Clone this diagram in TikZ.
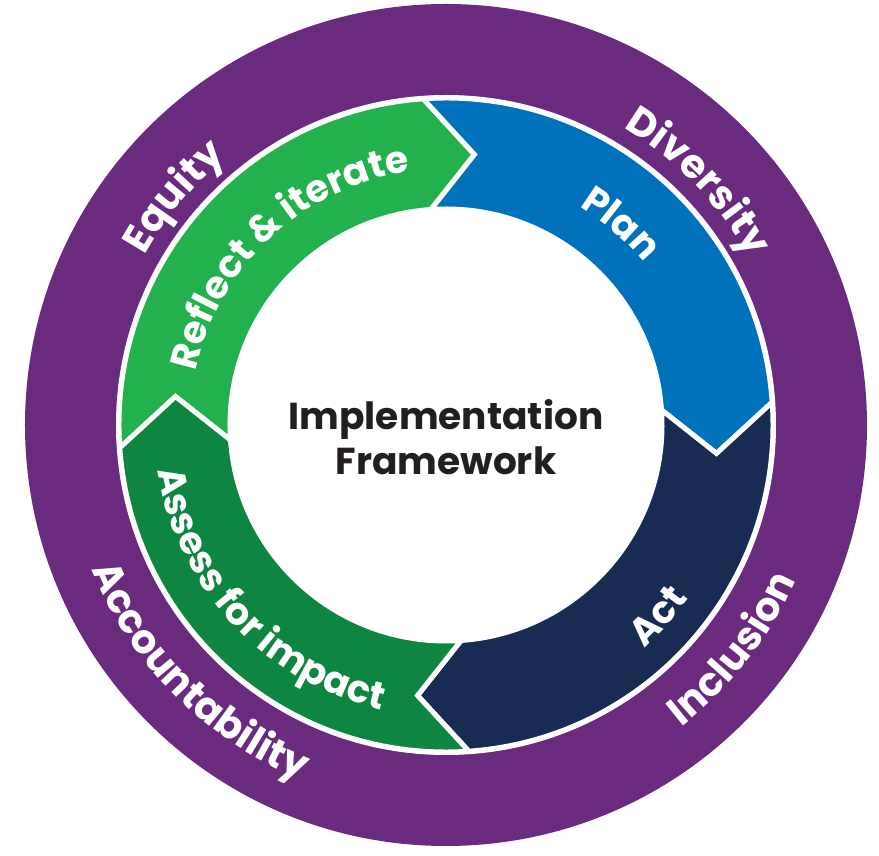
\documentclass[tikz,border=0pt]{standalone}
\usepackage{fontspec}
\setmainfont{Poppins}
\usetikzlibrary{decorations.text}

\definecolor{clpurple}{HTML}{6A2B7E}
\definecolor{clgreen}{HTML}{23B14D}
\definecolor{cldkgreen}{HTML}{0E8641}
\definecolor{clblue}{HTML}{0072BC}
\definecolor{clnavy}{HTML}{182B52}
\definecolor{cltext}{HTML}{231F20}

\newcommand{\ringfont}{\bfseries\fontsize{38}{44}\selectfont}
\newcommand{\bandfont}{\bfseries\fontsize{40}{46}\selectfont}
\newcommand{\titlefont}{\bfseries\fontsize{37.5}{45}\selectfont}

\begin{document}
\begin{tikzpicture}[x=1pt, y=1pt]
  \tikzstyle{segment} = [draw=white, line width=5pt, line join=miter]
  \tikzstyle{ringtext} = [decorate, decoration={text along path, text align=center, text color=white}]
  \useasboundingbox (-446,-431) rectangle (433,425);

  % purple band and white gap
  \fill[clpurple] (0,0) circle[radius=421];
  \fill[white] (0,0) circle[radius=330];

  % the four arrows, clockwise
  \foreach \a/\col in {184/clgreen, 94/clblue, 4/clnavy, -86/cldkgreen}
    \filldraw[segment, fill=\col] (\a:327) arc[start angle=\a, end angle=\a-90, radius=327]
      -- (\a-100:272) -- (\a-90:216) arc[start angle=\a-90, end angle=\a, radius=216]
      -- (\a-10:272) -- cycle;

  % values on the purple band
  \path[ringtext, decoration={text={|\bandfont|Equity}}] (178:346) arc[start angle=178, end angle=102, radius=346];
  \path[ringtext, decoration={text={|\bandfont|Diversity}}] (84:346) arc[start angle=84, end angle=4, radius=346];
  \path[ringtext, decoration={text={|\bandfont|Inclusion}}] (-78:383) arc[start angle=-78, end angle=2, radius=383];
  \path[ringtext, decoration={text={|\bandfont|Accountability}}] (182:383) arc[start angle=182, end angle=268, radius=383];

  % steps on the arrows
  \path[ringtext, decoration={text={|\ringfont|Reflect {\&} iterate}}] (180:256) arc[start angle=180, end angle=86, radius=256];
  \path[ringtext, decoration={text={|\ringfont|Plan}}] (82:256) arc[start angle=82, end angle=16, radius=256];
  \path[ringtext, decoration={text={|\ringfont|Act}}] (-76:298) arc[start angle=-76, end angle=-8, radius=298];
  \path[ringtext, decoration={text={|\ringfont|Assess for impact}}] (180:292) arc[start angle=180, end angle=266, radius=292];

  \node[align=center, text=cltext, font=\titlefont] (title) at (0,-12) {Implementation\\Framework};
\end{tikzpicture}
\end{document}
